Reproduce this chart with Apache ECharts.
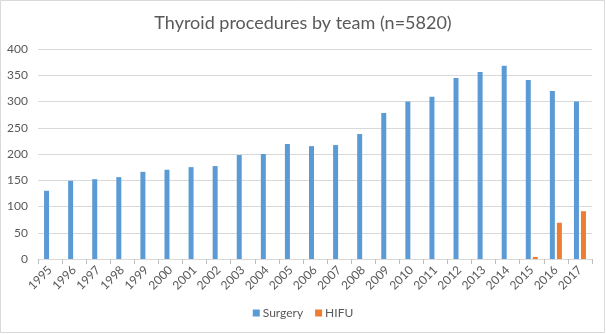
<!DOCTYPE html>
<html>
<head>
<meta charset="utf-8">
<script src="https://cdn.jsdelivr.net/npm/echarts@6/dist/echarts.min.js"></script>
<style>
html,body{margin:0;padding:0;background:#fff;}
#c{width:606px;height:334px;}
</style>
</head>
<body>
<div id="c"></div>
<script>
const years = ['1995','1996','1997','1998','1999','2000','2001','2002','2003','2004','2005','2006','2007','2008','2009','2010','2011','2012','2013','2014','2015','2016','2017'];
const surgery = [130,149,152,156,166,170,175,177,198,200,219,215,217,238,278,300,309,345,356,368,341,320,300];
const hifu = [0,0,0,0,0,0,0,0,0,0,0,0,0,0,0,0,0,0,0,0,4,69,91];
const yTicks = [0,50,100,150,200,250,300,350,400];

const chart = echarts.init(document.getElementById('c'), null, {renderer:'canvas'});
const font = 'Lato, "Open Sans", sans-serif';
chart.setOption({
  animation:false,
  textStyle:{fontFamily:font},
  title:{
    text:'Thyroid procedures by team (n=5820)',
    left:'center', top:9,
    textStyle:{fontFamily:font,fontSize:18,fontWeight:'normal',color:'#595959'}
  },
  graphic:[{type:'rect',shape:{x:0.5,y:0.5,width:604,height:332},style:{fill:'none',stroke:'#d9d9d9',lineWidth:1},silent:true}],
  legend:{
    bottom:10, left:'center',
    itemWidth:7, itemHeight:7, itemGap:12,
    icon:'rect',
    textStyle:{fontFamily:font,fontSize:12,color:'#595959',padding:[0,0,0,-2]},
    data:['Surgery','HIFU']
  },
  grid:{left:38,right:14,top:49,bottom:75,containLabel:false},
  xAxis:{
    type:'category',
    data:years,
    axisLine:{lineStyle:{color:'#d9d9d9'}},
    axisTick:{show:true,length:5,lineStyle:{color:'#bfbfbf'}},
    axisLabel:{rotate:45,fontSize:12,color:'#595959',fontFamily:font,margin:9,interval:0}
  },
  yAxis:{
    type:'value',
    min:yTicks[0], max:yTicks[yTicks.length-1], interval:50,
    axisLine:{show:false},
    axisTick:{show:false},
    splitLine:{lineStyle:{color:'#d9d9d9'}},
    axisLabel:{fontSize:12,color:'#595959',fontFamily:font,margin:10}
  },
  series:[
    {name:'Surgery',type:'bar',data:surgery,barWidth:5,barGap:'40%',itemStyle:{color:'#5b9bd5'}},
    {name:'HIFU',type:'bar',data:hifu,barWidth:5,itemStyle:{color:'#ed7d31'}}
  ]
});
</script>
</body>
</html>
